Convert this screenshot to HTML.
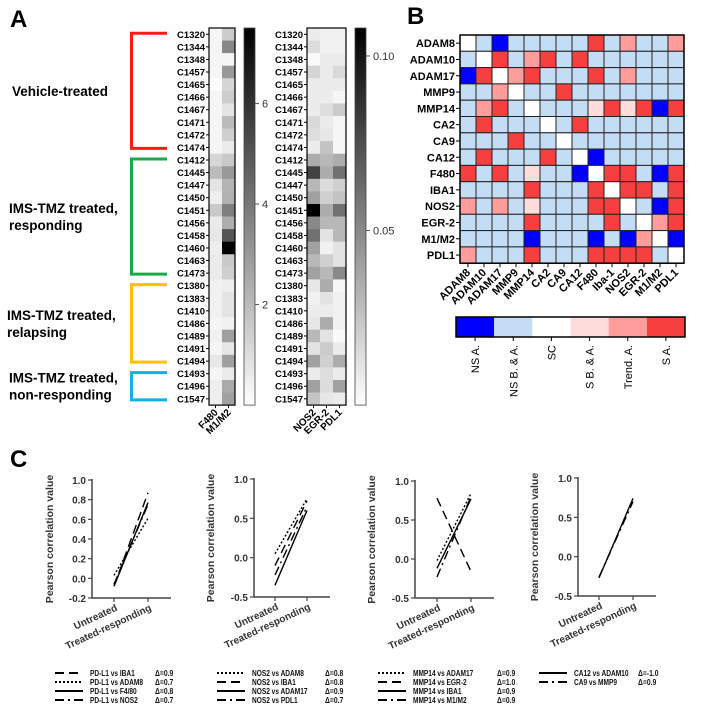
<!DOCTYPE html>
<html><head><meta charset="utf-8">
<style>
html,body{margin:0;padding:0;background:#fff;}
svg{display:block;font-family:"Liberation Sans",Arial,sans-serif;}
</style></head>
<body>
<svg id="fig" width="702" height="711" viewBox="0 0 702 711" xmlns="http://www.w3.org/2000/svg">
<text x="10" y="27" font-size="24" font-weight="bold">A</text>
<text x="407" y="24" font-size="24" font-weight="bold">B</text>
<text x="10" y="467" font-size="24" font-weight="bold">C</text>
<g id="gA"></g>
<g id="gB"></g>
<g id="gC"></g>
</svg>
<script>
// ---- Panel A data ----
const samples=["C1320","C1344","C1348","C1457","C1465","C1466","C1467","C1471","C1472","C1474","C1412","C1445","C1447","C1450","C1451","C1456","C1458","C1460","C1463","C1473","C1380","C1383","C1410","C1486","C1489","C1491","C1494","C1493","C1496","C1547"];
const hm1Cols=["F480","M1/M2"];
const hm1F480=[0.3,0.3,0.3,0.3,0.1,0.3,0.3,0.3,0.3,0.3,1.2,2.0,0.8,0.5,1.6,0.6,0.7,0.5,0.6,0.6,0.4,0.4,0.4,0.3,0.4,0.3,0.7,0.3,0.5,0.5];
const hm1M1M2=[1.5,3.5,0.3,3.0,1.2,1.5,0.8,2.0,1.4,0.6,1.6,3.0,2.2,2.3,3.8,2.4,5.0,7.5,1.6,1.4,0.5,0.8,0.8,0.4,2.8,0.7,2.8,0.6,2.5,2.8];
const hm1Ticks=[2,4,6];
const hm2Cols=["NOS2","EGR-2","PDL1"];
const hm2NOS2=[.008,.015,.002,.018,.008,.008,.008,.016,.014,.008,.035,.080,.030,.040,.108,.050,.060,.040,.030,.040,.010,.006,.008,.010,.030,.012,.040,.008,.040,.025];
const hm2EGR2=[.006,.006,.008,.008,.008,.008,.014,.008,.010,.025,.030,.035,.015,.020,.035,.030,.012,.006,.020,.030,.035,.012,.008,.035,.012,.022,.020,.014,.015,.010];
const hm2PDL1=[.006,.006,.008,.016,.008,.004,.022,.004,.004,.004,.035,.060,.020,.025,.060,.030,.030,.012,.012,.050,.004,.006,.006,.006,.002,.008,.035,.008,.040,.008];
const hm2Ticks=[0.05,0.10];
const groups=[["Vehicle-treated"],["IMS-TMZ treated,","responding"],["IMS-TMZ treated,","relapsing"],["IMS-TMZ treated,","non-responding"]];
const groupStart=[0,10,20,27];
const groupEnd=[9,19,26,29];
const groupColors=["#ff1a1a","#1aaa4a","#ffc000","#10b0e8"];
// ---- Panel B data ----
const genes=["ADAM8","ADAM10","ADAM17","MMP9","MMP14","CA2","CA9","CA12","F480","IBA1","NOS2","EGR-2","M1/M2","PDL1"];
const genesX=["ADAM8","ADAM10","ADAM17","MMP9","MMP14","CA2","CA9","CA12","F480","Iba-1","NOS2","EGR-2","M1/M2","PDL1"];
const corrCodes=[
[2,1,0,1,1,1,1,1,5,1,4,1,1,4],
[1,2,5,1,4,5,1,5,1,1,1,1,1,1],
[0,5,2,4,5,1,1,1,5,1,4,1,1,1],
[1,1,4,2,1,1,5,1,1,1,1,1,1,1],
[1,4,5,1,2,1,1,1,3,5,3,5,0,5],
[1,5,1,1,1,2,1,5,1,1,1,1,1,1],
[1,1,1,5,1,1,2,1,1,1,1,1,1,1],
[1,5,1,1,1,5,1,2,0,1,1,1,1,1],
[5,1,5,1,3,1,1,0,2,5,5,1,0,5],
[1,1,1,1,5,1,1,1,5,2,5,5,1,5],
[4,1,4,1,3,1,1,1,5,5,2,1,0,5],
[1,1,1,1,5,1,1,1,1,5,1,2,4,5],
[1,1,1,1,0,1,1,1,0,1,0,4,2,0],
[4,1,1,1,5,1,1,1,5,5,5,5,1,2]];
const legendLabels=["NS A.","NS B. & A.","SC","S B. & A.","Trend. A.","S A."];
const legendColors=["#0000ff","#c5dcf5","#ffffff","#ffdcdc","#ff9c9c","#f64040"];
// ---- Panel C data ----
const cats=["Untreated","Treated-responding"];
const c1Names=["PD-L1 vs IBA1","PD-L1 vs ADAM8","PD-L1 vs F4/80","PD-L1 vs NOS2"];
const c1Deltas=["Δ=0.9","Δ=0.7","Δ=0.8","Δ=0.7"];
const c1Untreated=[-0.08,0.03,-0.08,-0.06];
const c1Treated=[0.87,0.61,0.77,0.75];
const c2Names=["NOS2 vs ADAM8","NOS2 vs IBA1","NOS2 vs ADAM17","NOS2 vs PDL1"];
const c2Deltas=["Δ=0.8","Δ=0.8","Δ=0.9","Δ=0.7"];
const c2Untreated=[0.05,-0.1,-0.35,-0.22];
const c2Treated=[0.75,0.72,0.6,0.65];
const c3Names=["MMP14 vs ADAM17","MMP14 vs EGR-2","MMP14 vs IBA1","MMP14 vs M1/M2"];
const c3Deltas=["Δ=0.9","Δ=1.0","Δ=0.9","Δ=0.9"];
const c3Untreated=[-0.02,0.78,-0.12,-0.23];
const c3Treated=[0.84,-0.16,0.77,0.8];
const c4Names=["CA12 vs ADAM10","CA9 vs MMP9"];
const c4Deltas=["Δ=-1.0","Δ=0.9"];
const c4Untreated=[-0.27,-0.26];
const c4Treated=[0.74,0.7];
const c1Ticks=["-0.2","0.0","0.2","0.4","0.6","0.8","1.0"];
const c2Ticks=["-0.5","0.0","0.5","1.0"];

const NS="http://www.w3.org/2000/svg";
function mk(parent,tag,attrs,text){const e=document.createElementNS(NS,tag);for(const k in attrs)e.setAttribute(k,attrs[k]);if(text!==undefined)e.textContent=text;parent.appendChild(e);return e;}
function gray(t){t=Math.max(0,Math.min(1,t));const v=Math.round(255*(1-t));return `rgb(${v},${v},${v})`;}
function condense(t,f){try{const w=t.getComputedTextLength();if(w>0){t.setAttribute('textLength',(w*f).toFixed(1));t.setAttribute('lengthAdjust','spacingAndGlyphs');}}catch(e){}}

// ===== Panel A =====
const gA=document.getElementById('gA');
const rowTop=28,rowH=12.57,cw=13;
function yRow(i){return rowTop+i*rowH;}
function heat(x0,cols,series,vmax,tickVals,cbx,labelFmt){
  const n=samples.length;
  samples.forEach((s,i)=>{
    const t=mk(gA,'text',{x:x0-4,y:yRow(i)+rowH/2+3.5,'font-size':9.5,'font-weight':'bold','text-anchor':'end'},s);
    
    
    mk(gA,'line',{x1:x0-3,x2:x0,y1:yRow(i)+rowH/2,y2:yRow(i)+rowH/2,stroke:'#000','stroke-width':1});
  });
  series.forEach((arr,c)=>{
    arr.forEach((v,i)=>{
      const r=mk(gA,'rect',{x:x0+c*cw,y:yRow(i),width:cw+0.3,height:rowH+0.3,fill:gray(v/vmax)});
      
      
    });
  });
  mk(gA,'rect',{x:x0,y:rowTop,width:cols.length*cw,height:n*rowH,fill:'none',stroke:'#000','stroke-width':1.2});
  cols.forEach((c,k)=>{
    const cx=x0+k*cw+cw/2,cy=rowTop+n*rowH;
    mk(gA,'line',{x1:cx,x2:cx,y1:cy,y2:cy+3,stroke:'#000'});
    const t=mk(gA,'text',{x:cx+3,y:cy+8,'font-size':10,'font-weight':'bold','text-anchor':'end',transform:`rotate(-45 ${cx+3} ${cy+8})`},c);
    
    
  });
  const gid='grad'+x0;
  const defs=mk(gA,'defs',{});const lg=mk(defs,'linearGradient',{id:gid,x1:0,y1:1,x2:0,y2:0});
  mk(lg,'stop',{offset:0,'stop-color':'#fff'});mk(lg,'stop',{offset:1,'stop-color':'#000'});
  const cb=mk(gA,'rect',{x:cbx,y:rowTop,width:11,height:n*rowH,fill:`url(#${gid})`,stroke:'#444','stroke-width':0.8});
  
  
  const H=n*rowH;
  tickVals.forEach(v=>{
    const y=rowTop+H-(v/vmax)*H;
    mk(gA,'line',{x1:cbx+11,x2:cbx+15,y1:y,y2:y,stroke:'#555'});
    mk(gA,'text',{x:cbx+18,y:y+4,'font-size':11,fill:'#333'},labelFmt(v));
  });
}
heat(209,hm1Cols,[hm1F480,hm1M1M2],7.5,hm1Ticks,244,v=>String(v));
heat(307,hm2Cols,[hm2NOS2,hm2EGR2,hm2PDL1],0.108,hm2Ticks,355,v=>v.toFixed(2));
groups.forEach((g,k)=>{
  const y1=yRow(groupStart[k])+rowH/2-1,y2=yRow(groupEnd[k])+rowH/2+1;
  const p=mk(gA,'path',{d:`M167 ${y1} H131.5 V${y2} H167`,fill:'none',stroke:groupColors[k],'stroke-width':3});
  
  
  const mid=(y1+y2)/2;
  g.forEach((line,j)=>{
    const yy=mid+5+(j-(g.length-1)/2)*17;
    const t=mk(gA,'text',{x:k==0?12:(k==2?7:9),y:yy,'font-size':13.5,'font-weight':'bold'},line);
    
    
  });
});

// ===== Panel B =====
const gB=document.getElementById('gB');
const bx=460,by=35,bcw=16,bch=16.3;
genes.forEach((g,i)=>{
  const t=mk(gB,'text',{x:bx-5,y:by+i*bch+bch/2+4,'font-size':11,'font-weight':'bold','text-anchor':'end'},g);
  
  
  mk(gB,'line',{x1:bx-4,x2:bx,y1:by+i*bch+bch/2,y2:by+i*bch+bch/2,stroke:'#000'});
});
corrCodes.forEach((row,i)=>row.forEach((c,j)=>{
  const r=mk(gB,'rect',{x:bx+j*bcw,y:by+i*bch,width:bcw,height:bch,fill:legendColors[c],stroke:'#222','stroke-width':1});
  
  
}));
mk(gB,'rect',{x:bx,y:by,width:14*bcw,height:14*bch,fill:'none',stroke:'#000','stroke-width':1.5});
genesX.forEach((g,j)=>{
  const cx=bx+j*bcw+bcw/2,cy=by+14*bch;
  mk(gB,'line',{x1:cx,x2:cx,y1:cy,y2:cy+4,stroke:'#000'});
  const t=mk(gB,'text',{x:cx+3,y:cy+10,'font-size':11,'font-weight':'bold','text-anchor':'end',transform:`rotate(-45 ${cx+3} ${cy+10})`},g);
  
  
});
const lx=456,lw=229/6;
legendColors.forEach((c,k)=>{
  const r=mk(gB,'rect',{x:lx+k*lw,y:317,width:lw,height:20,fill:c});
  
  
  const cx=lx+k*lw+lw/2;
  mk(gB,'line',{x1:cx,x2:cx,y1:337,y2:341,stroke:'#000'});
  const t=mk(gB,'text',{x:cx+4,y:345,'font-size':11,'text-anchor':'end',transform:`rotate(-90 ${cx+4} 345)`},legendLabels[k]);
  
  
});
mk(gB,'rect',{x:lx,y:317,width:229,height:20,fill:'none',stroke:'#000','stroke-width':1.5});

// ===== Panel C =====
const gC=document.getElementById('gC');
function plot(o){
  const {ax,axEnd,yTop,yBot,vmin,vmax,ticks,tx1,tx2,titleX,U,T,names,deltas,dash,legX,idx}=o;
  const yS=v=>yBot-(v-vmin)/(vmax-vmin)*(yBot-yTop);
  const g=mk(gC,'g',{});
  
  
  mk(g,'line',{x1:ax,x2:ax,y1:yTop-1,y2:yBot,stroke:'#444','stroke-width':1.5});
  mk(g,'line',{x1:ax,x2:axEnd,y1:yBot,y2:yBot,stroke:'#444','stroke-width':1.5});
  ticks.forEach(t=>{const y=yS(parseFloat(t));
    mk(g,'line',{x1:ax-4,x2:ax,y1:y,y2:y,stroke:'#444','stroke-width':1.2});
    mk(g,'text',{x:ax-6,y:y+4,'font-size':10,'font-weight':'bold','text-anchor':'end',fill:'#333'},t);});
  [tx1,tx2].forEach((x,k)=>{
    mk(g,'line',{x1:x,x2:x,y1:yBot,y2:yBot+4,stroke:'#444','stroke-width':1.2});
    const t=mk(g,'text',{x:x+4,y:yBot+12,'font-size':10,'font-weight':'bold','text-anchor':'end',fill:'#333',transform:`rotate(-25 ${x+4} ${yBot+12})`},cats[k]);
    
    
  });
  const yt=mk(g,'text',{x:titleX,y:(yTop+yBot)/2,'font-size':10.5,'font-weight':'bold','text-anchor':'middle',fill:'#333',transform:`rotate(-90 ${titleX} ${(yTop+yBot)/2})`},"Pearson correlation value");
  
  
  U.forEach((u,k)=>{
    const l=mk(g,'line',{x1:tx1,y1:yS(u),x2:tx2,y2:yS(T[k]),stroke:'#000','stroke-width':1.4,'stroke-dasharray':dash[k]});
    
    
  });
  names.forEach((n,k)=>{
    const y=673+k*9;
    mk(g,'line',{x1:legX,x2:legX+28,y1:y,y2:y,stroke:'#000','stroke-width':2,'stroke-dasharray':dash[k]});
    const t=mk(g,'text',{x:legX+35,y:y+3,'font-size':8,'font-weight':'bold',fill:'#111'},n);
    
    
    condense(t,0.82);
    const d=mk(g,'text',{x:legX+o.dOff,y:y+3,'font-size':8,'font-weight':'bold',fill:'#111'},deltas[k]);
    condense(d,0.85);
  });
}
plot({idx:1,ax:92,axEnd:171,yTop:480,yBot:598,vmin:-0.2,vmax:1.0,ticks:c1Ticks,tx1:114,tx2:148,titleX:53,U:c1Untreated,T:c1Treated,names:c1Names,deltas:c1Deltas,dash:["9,5","2,2","","9,4,2,4"],legX:55,dOff:100});
plot({idx:2,ax:254,axEnd:330,yTop:479,yBot:597,vmin:-0.5,vmax:1.0,ticks:c2Ticks,tx1:275,tx2:307,titleX:214,U:c2Untreated,T:c2Treated,names:c2Names,deltas:c2Deltas,dash:["2,2","9,5","","9,4,2,4"],legX:217,dOff:108});
plot({idx:3,ax:415,axEnd:494,yTop:481,yBot:598,vmin:-0.5,vmax:1.0,ticks:c2Ticks,tx1:437,tx2:471,titleX:375,U:c3Untreated,T:c3Treated,names:c3Names,deltas:c3Deltas,dash:["2,2","9,5","","9,4,2,4"],legX:378,dOff:119});
plot({idx:4,ax:578,axEnd:656,yTop:478,yBot:596,vmin:-0.5,vmax:1.0,ticks:c2Ticks,tx1:599,tx2:633,titleX:538,U:c4Untreated,T:c4Treated,names:c4Names,deltas:c4Deltas,dash:["","9,4,2,4"],legX:539,dOff:99});
</script>
</body></html>
